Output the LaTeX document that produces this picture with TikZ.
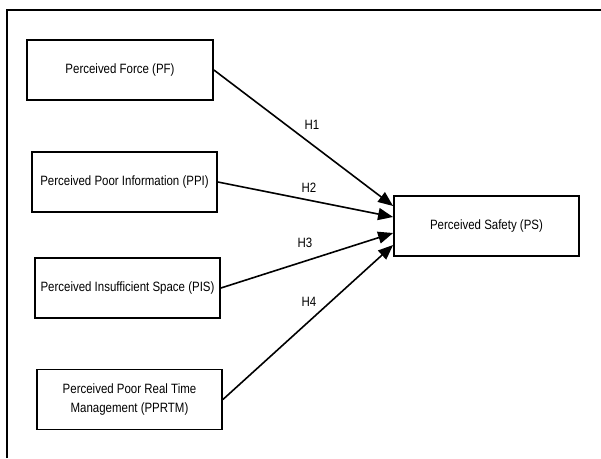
\documentclass[tikz,border=0pt]{standalone}
\usepackage{fontspec}
\setmainfont{Liberation Sans}[FakeStretch=0.85]
\usetikzlibrary{arrows.meta}
\tikzset{
	box/.style={draw, line width=1.8pt, minimum width=185pt, minimum height=60pt,
		align=center, inner sep=2pt, font=\fontsize{13.5}{19}\selectfont},
	arr/.style={line width=1.6pt, -{Triangle[length=15pt,width=12pt]}},
	lab/.style={font=\fontsize{13.5}{15}\selectfont, inner sep=0pt}
}
\begin{document}
\begin{tikzpicture}[x=1pt,y=-1pt]
						\useasboundingbox (0,0) rectangle (601,458);
						\draw[line width=1.2pt] (7,458) -- (7,10) -- (601,10);
						
						\node[box, minimum width=186pt] (pf) at (120,70) {Perceived Force (PF)};
						\node[box] (ppi) at (124.5,182) {Perceived Poor Information (PPI)};
						\node[box] (pis) at (127.5,288) {Perceived Insufficient Space (PIS)};
						\node[box] (pprtm) at (129.5,399.5) {Perceived Poor Real Time\\ Management (PPRTM)};
						\node[box] (ps) at (486.5,226) {Perceived Safety (PS)};
						
						\foreach \src/\dy/\lbl/\lx/\ly in {pf/20/H1/312/125, ppi/9/H2/309/188, pis/-7/H3/305/243, pprtm/-19/H4/309/302}{
							\draw[arr] (\src.east) -- ([yshift=\dy pt]ps.west);
							\node[lab] (\lbl) at (\lx,\ly) {\lbl};
						}
						
					\end{tikzpicture}
\end{document}
